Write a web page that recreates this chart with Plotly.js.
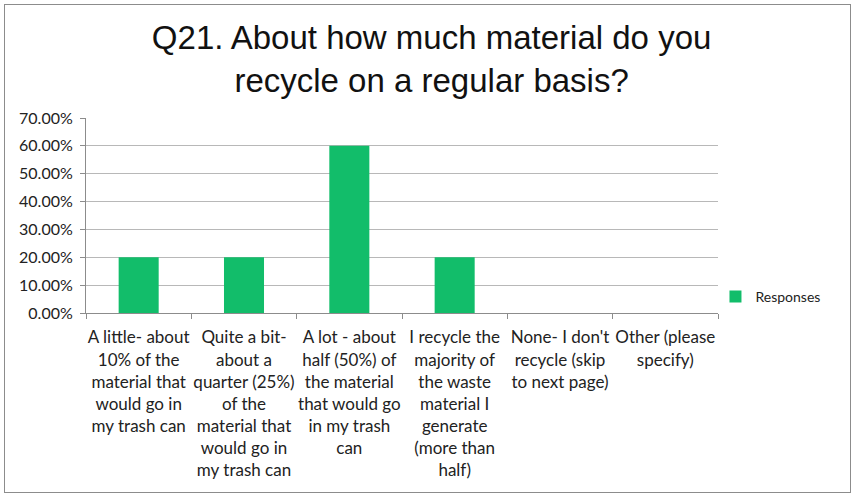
<!DOCTYPE html>
<html><head><meta charset="utf-8">
<script src="https://cdn.plot.ly/plotly-3.0.1.min.js"></script>
<style>
html,body{margin:0;padding:0;background:#fff;}
#frame{position:absolute;left:4px;top:4px;width:847px;height:489px;border:1px solid #8c8c8c;box-sizing:border-box;}
#chart{position:absolute;left:0;top:0;width:853px;height:496px;}
</style>
</head><body>
<div id="frame"></div>
<div id="chart"></div>
<script>
const categories = [
  "A little- about<br>10% of the<br>material that<br>would go in<br>my trash can",
  "Quite a bit-<br>about a<br>quarter (25%)<br>of the<br>material that<br>would go in<br>my trash can",
  "A lot - about<br>half (50%) of<br>the material<br>that would go<br>in my trash<br>can",
  "I recycle the<br>majority of<br>the waste<br>material I<br>generate<br>(more than<br>half)",
  "None- I don't<br>recycle (skip<br>to next page)",
  "Other (please<br>specify)"
];
const responses = [0.20, 0.20, 0.60, 0.20, 0, 0];
const yTicks = [0, 0.1, 0.2, 0.3, 0.4, 0.5, 0.6, 0.7];
const yTickText = ["0.00%","10.00%","20.00%","30.00%","40.00%","50.00%","60.00%","70.00%"];
const seriesName = "Responses";

const fam = "Lato, 'Open Sans', sans-serif";

Plotly.newPlot("chart", [{
  type: "bar",
  x: categories,
  y: responses,
  name: seriesName,
  marker: {color: "#12BD6A"},
  width: 0.38,
  showlegend: true
}], {
  width: 853, height: 496,
  paper_bgcolor: "rgba(0,0,0,0)",
  plot_bgcolor: "#fff",
  margin: {l: 86, r: 135, t: 118, b: 183},
  title: {
    text: "Q21. About how much material do you<br>recycle on a regular basis?",
    font: {family: "'Liberation Sans', Arial, sans-serif", size: 33, color: "#111"},
    x: 0.506, xanchor: "center", y: 0.902, yanchor: "top"
  },
  xaxis: {
    type: "category",
    tickfont: {family: fam, size: 17, color: "#222"},
    tickangle: 0,
    ticks: "outside", tickson: "boundaries", ticklen: 5, tickcolor: "#8c8c8c",
    ticklabelstandoff: 9,
    showline: true, linecolor: "#8c8c8c", linewidth: 1,
    showgrid: false, automargin: false
  },
  yaxis: {
    range: [0, 0.7],
    tickvals: yTicks, ticktext: yTickText,
    tickfont: {family: fam, size: 16, color: "#222"},
    ticks: "outside", ticklen: 5, tickcolor: "#8c8c8c",
    ticklabelstandoff: 4,
    showline: true, linecolor: "#8c8c8c", linewidth: 1,
    gridcolor: "#b8b8b8", gridwidth: 1,
    zeroline: false, automargin: false
  },
  legend: {
    x: 0.996, xanchor: "left", y: 0.082, yanchor: "middle",
    font: {family: fam, size: 14, color: "#222"}, bgcolor: "rgba(0,0,0,0)"
  }
}, {displayModeBar: false, staticPlot: true});
</script>
</body></html>
